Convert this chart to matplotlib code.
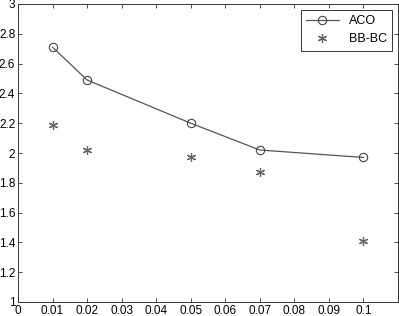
import matplotlib
matplotlib.use("Agg")
import matplotlib.pyplot as plt

plt.rcParams["font.family"] = ["Liberation Sans", "DejaVu Sans"]

x = [0.01, 0.02, 0.05, 0.07, 0.1]
aco = [2.71, 2.49, 2.20, 2.02, 1.97]
bbbc = [2.19, 2.02, 1.97, 1.87, 1.41]
xticks = [0, 0.01, 0.02, 0.03, 0.04, 0.05, 0.06, 0.07, 0.08, 0.09, 0.1]
xticklabels = ["0", "0.01", "0.02", "0.03", "0.04", "0.05", "0.06", "0.07", "0.08", "0.09", "0.1"]
yticks = [1, 1.2, 1.4, 1.6, 1.8, 2, 2.2, 2.4, 2.6, 2.8, 3]
yticklabels = ["1", "1.2", "1.4", "1.6", "1.8", "2", "2.2", "2.4", "2.6", "2.8", "3"]

fig = plt.figure(figsize=(3.99, 3.16), dpi=100)
ax = fig.add_axes([18/399, 1 - 302/316, 380/399, 298/316])
ax.plot(x, aco, color="#555555", lw=0.9, marker="o", mfc="none", mec="#444444",
        ms=6, mew=0.8, label="ACO")
ax.plot(x, bbbc, ls="none", color="#666666", marker=(6, 2, 0), ms=6.5, mew=0.9,
        label="BB-BC")
ax.set_xlim(0, 0.11)
ax.set_ylim(1, 3)
ax.set_xticks(xticks)
ax.set_xticklabels(xticklabels)
ax.set_yticks(yticks)
ax.set_yticklabels(yticklabels)
ax.tick_params(direction="in", top=True, right=True, labelsize=8.5, length=3,
               width=0.6, color="#333333", pad=2)
for s in ax.spines.values():
    s.set_linewidth(0.7)
    s.set_color("#333333")
leg = ax.legend(loc="upper right", fontsize=9, fancybox=False, edgecolor="#333333",
                framealpha=1, handlelength=2.6, borderaxespad=0.5)
leg.get_frame().set_linewidth(0.7)
fig.savefig("out.png", dpi=100)
